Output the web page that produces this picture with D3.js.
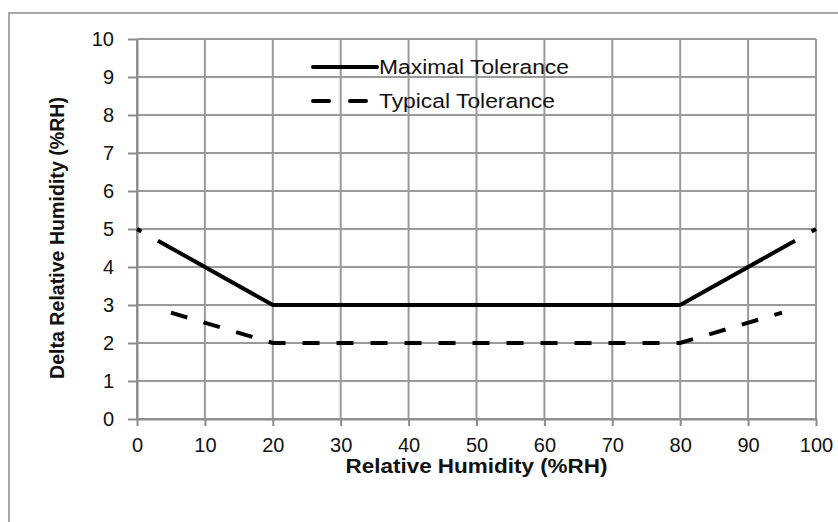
<!DOCTYPE html>
<html>
<head>
<meta charset="utf-8">
<script src="https://cdn.jsdelivr.net/npm/d3@7"></script>
<style>
  body { margin: 0; background: #fff; }
  text { font-family: "Liberation Sans", Arial, sans-serif; fill: #111; }
  .grid line { stroke: #9a9a9a; stroke-width: 2; }
  .axis path, .axis line { stroke: #8c8c8c; stroke-width: 2; }
  .line { fill: none; stroke: #000; stroke-width: 4; }
</style>
</head>
<body>
<div class="chartRender"></div>
<script>
// data
var maxRH    = [0, 20, 80, 100];
var maxDelta = [5, 3, 3, 5];
var typRH    = [5, 20, 80, 95];
var typDelta = [2.8, 2, 2, 2.8];
var xTicks = [0, 10, 20, 30, 40, 50, 60, 70, 80, 90, 100];
var yTicks = [0, 1, 2, 3, 4, 5, 6, 7, 8, 9, 10];
var legendNames = ["Maximal Tolerance", "Typical Tolerance"];

var margin = {top: 39, right: 22, bottom: 103, left: 137},
    width = 838 - margin.left - margin.right,
    height = 522 - margin.top - margin.bottom;

var x = d3.scaleLinear().domain([0, 100]).range([0, width]);
var y = d3.scaleLinear().domain([0, 10]).range([height, 0]);

var root = d3.select(".chartRender").append("svg")
    .attr("width", 838)
    .attr("height", 522);

// outer frame (only left and top edges are in view)
root.append("rect")
    .attr("x", 9).attr("y", 13)
    .attr("width", 860).attr("height", 540)
    .attr("fill", "none")
    .attr("stroke", "#a8a8a8")
    .attr("stroke-width", 2);

var svg = root.append("g")
    .attr("transform", "translate(" + margin.left + "," + margin.top + ")");

// grid
svg.append("g").attr("class", "grid")
    .selectAll("line.h").data(yTicks).enter().append("line")
    .attr("x1", 0).attr("x2", width)
    .attr("y1", function(d){ return y(d); })
    .attr("y2", function(d){ return y(d); });

svg.append("g").attr("class", "grid")
    .selectAll("line.v").data(xTicks).enter().append("line")
    .attr("y1", 0).attr("y2", height)
    .attr("x1", function(d){ return x(d); })
    .attr("x2", function(d){ return x(d); });

// axes
var xAxis = d3.axisBottom(x).tickValues(xTicks).tickSize(7).tickPadding(12).tickSizeOuter(0);
svg.append("g").attr("class", "axis")
    .attr("transform", "translate(0," + height + ")")
    .call(xAxis);

var yAxis = d3.axisLeft(y).tickValues(yTicks).tickSize(9).tickPadding(14).tickSizeOuter(0);
svg.append("g").attr("class", "axis")
    .call(yAxis);

svg.selectAll(".axis text")
    .attr("font-family", "Liberation Sans, Arial, sans-serif")
    .attr("font-size", 20)
    .attr("fill", "#111");

// axis titles
svg.append("text")
    .text("Relative Humidity (%RH)")
    .attr("text-anchor", "middle")
    .attr("font-weight", "bold")
    .attr("font-size", 20)
    .attr("textLength", 262)
    .attr("lengthAdjust", "spacingAndGlyphs")
    .attr("transform", "translate(" + (width / 2) + "," + (height + 54) + ")");

svg.append("text")
    .text("Delta Relative Humidity (%RH)")
    .attr("text-anchor", "middle")
    .attr("font-weight", "bold")
    .attr("font-size", 20)
    .attr("textLength", 282)
    .attr("lengthAdjust", "spacingAndGlyphs")
    .attr("transform", "translate(-73," + (height / 2 + 9) + ") rotate(-90)");

// lines
var line = d3.line()
    .x(function(d){ return x(d[0]); })
    .y(function(d){ return y(d[1]); });

var maxPath = svg.append("path")
    .attr("class", "line")
    .attr("d", line(d3.zip(maxRH, maxDelta)));
var L = maxPath.node().getTotalLength();
maxPath.attr("stroke-dasharray", "5,19," + (L - 48) + ",19,5");

svg.append("path")
    .attr("class", "line")
    .attr("stroke-dasharray", "17,17")
    .attr("d", line(d3.zip(typRH, typDelta)));

// legend
var legend = svg.append("g").attr("transform", "translate(176,28)");
legendNames.forEach(function(name, i) {
    var g = legend.append("g").attr("transform", "translate(0," + (i * 34) + ")");
    g.append("line")
        .attr("class", "line")
        .attr("x1", 0).attr("x2", i === 0 ? 64 : 56)
        .attr("y1", 0).attr("y2", 0)
        .attr("stroke-width", 5)
        .attr("stroke-linecap", "round")
        .attr("stroke-dasharray", i === 0 ? null : "16,21");
    g.append("text")
        .text(name)
        .attr("x", 66)
        .attr("y", 7)
        .attr("font-size", 20)
        .attr("textLength", i === 0 ? 190 : 176)
        .attr("lengthAdjust", "spacingAndGlyphs");
});
</script>
</body>
</html>
